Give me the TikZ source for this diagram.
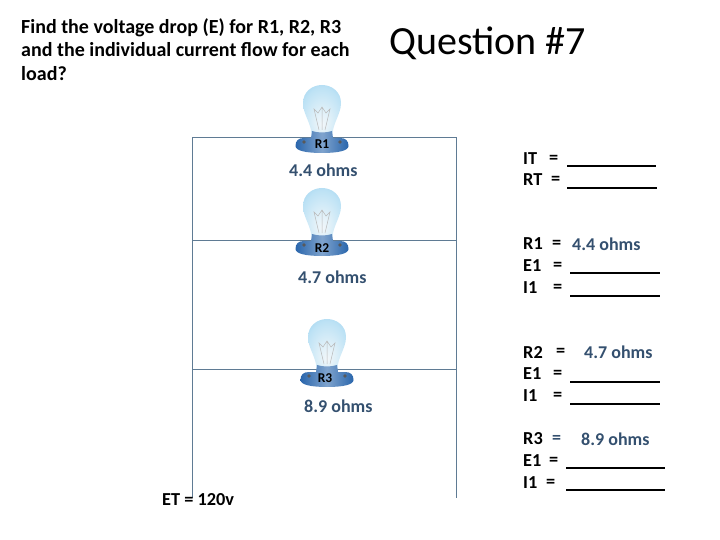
\documentclass[tikz,border=0pt]{standalone}
\usepackage{fontspec}
\setmainfont{Carlito}
\definecolor{wirecol}{HTML}{5F7B94}
\definecolor{ohmcol}{HTML}{34506F}
\definecolor{basecol}{HTML}{2A66AC}
\definecolor{glassa}{HTML}{F2F7FA}
\definecolor{glassb}{HTML}{DDEFF8}
\definecolor{glassc}{HTML}{BDE2F5}
\definecolor{glassd}{HTML}{7CC3E8}
\pgfdeclareradialshading{glassfill}{\pgfpoint{0bp}{-12bp}}{color(0bp)=(glassa); color(12bp)=(glassb); color(28bp)=(glassc); color(48bp)=(glassd); color(50bp)=(glassd)}
\tikzset{
  wire/.style={draw=wirecol, line width=1pt},
  txt/.style={font=\fontsize{18.3}{22}\selectfont\bfseries, inner sep=0pt, anchor=west},
  ohm/.style={font=\fontsize{18}{22}\selectfont\bfseries, text=ohmcol, inner sep=0pt, anchor=west},
  tag/.style={font=\fontsize{13.5}{16}\selectfont\bfseries, inner sep=0pt},
  blankline/.style={fill=black, inner sep=0pt, minimum height=1.8pt, minimum width=#1, anchor=west},
  pics/lamp/.style={code={
    %% glass
    \path[shading=glassfill]
      (-10,-6) .. controls (-10,-22) and (-19,-30) .. (-19,-42)
      .. controls (-19,-53) and (-10,-60) .. (0,-60)
      .. controls (10,-60) and (19,-53) .. (19,-42)
      .. controls (19,-30) and (10,-22) .. (10,-6) -- cycle;
    \draw[gray!55, line width=0.5pt] (-3,-15) -- (-8,-36) -- (-4,-32) -- (0,-38) -- (4,-32) -- (8,-36) -- (3,-15) (0,-15) -- (0,-38);
    %% base
    \path[left color=basecol, right color=basecol, middle color=basecol!60!white]
      (-26.5,1) .. controls (-26.5,-4) and (-24,-7) .. (-18,-7)
      -- (-11,-7) -- (-10,-14)
      .. controls (-4,-12) and (4,-12) .. (10,-14) -- (11,-7)
      -- (18,-7) .. controls (24,-7) and (26.5,-4) .. (26.5,1)
      .. controls (26.5,6) and (15,8) .. (0,8)
      .. controls (-15,8) and (-26.5,6) .. (-26.5,1) -- cycle;
    \fill[gray!70!black] (-18,-3) circle (1.8pt) (18,-3) circle (1.8pt);
  }}
}
\begin{document}
\begin{tikzpicture}[x=1pt, y=-1pt]
  \useasboundingbox (0,0) rectangle (720,540);

  %% corners of the circuit
  \coordinate (tl) at (192,138);
  \coordinate (tr) at (456,138);
  \coordinate (ml) at (192,240);
  \coordinate (mr) at (456,240);
  \coordinate (ll) at (192,369);
  \coordinate (lr) at (456,369);
  \coordinate (bl) at (192,498);
  \coordinate (br) at (456,498);

  \draw[wire] (bl) -- (tl) -- (tr) -- (br);
  \draw[wire] (ml) -- (mr);
  \draw[wire] (ll) -- (lr);

  \pic at (322,145) {lamp};
  \pic at (322,248) {lamp};
  \pic at (327,379) {lamp};

  \node[tag] (nR1) at (322,144) {R1};
  \node[tag] (nR2) at (322,248) {R2};
  \node[tag] (nR3) at (325,378) {R3};

  \node[ohm] (vR1) at (289,170) {4.4 ohms};
  \node[ohm] (vR2) at (298,277) {4.7 ohms};
  \node[ohm] (vR3) at (304,406) {8.9 ohms};

  \node[txt] (et) at (162,500) {ET = 120v};

  %% heading
  \node[txt, align=left, anchor=north west, font=\fontsize{20}{23.6}\selectfont\bfseries] (ask) at (21,18)
    {Find the voltage drop (E) for R1, R2, R3\\and the individual current flow for each\\load?};
  \node[inner sep=0pt, anchor=west, font=\fontsize{40}{46}\selectfont] (qn) at (389,43) {Questi\kern0pt on \#7};

  %% answer sheet, left column
  \foreach \nm/\txt/\ex/\yy in {aa/IT/549/159, ab/RT/551/180, ac/R1/552/244, ad/E1/553/266, ae/I1/553/288,
                                af/R2/556/352, ag/E1/553/374, ah/I1/553/396, aj/R3/0/439, ak/E1/549/461, am/I1/546/483}
  {
    \node[txt] (\nm) at (523,\yy) {\txt};
    \ifnum\ex>0 \node[txt] (\nm eq) at (\ex,\yy) {=}; \fi
  }
  \node[ohm] (ajeq) at (552,439) {=};

  \node[ohm] (s1) at (572,244) {4.4 ohms};
  \node[ohm] (s2) at (584,352) {4.7 ohms};
  \node[ohm] (s3) at (581,439) {8.9 ohms};

  \foreach \nm/\bx/\blen/\yy in {ba/567/89/166, bb/567/90/188, bc/570/90/273, bd/570/90/296,
                               be/570/90/382, bf/570/90/404, bg/566/99/468, bh/566/99/490}
    \node[blankline=\blen pt] (\nm) at (\bx,\yy) {};
\end{tikzpicture}
\end{document}
